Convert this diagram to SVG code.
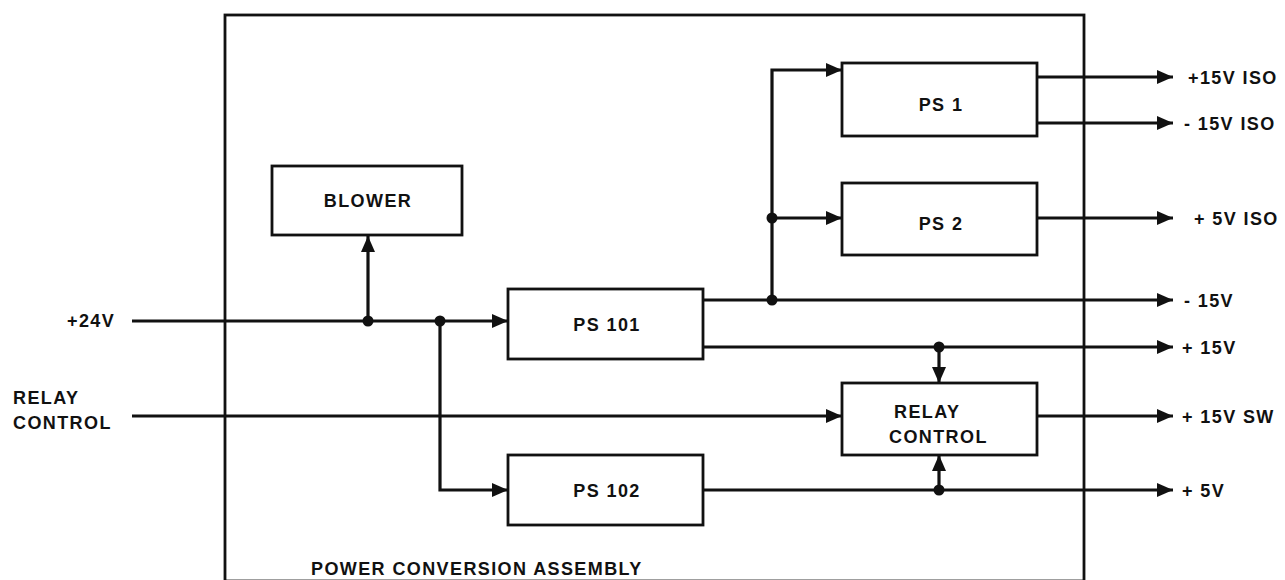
<svg xmlns="http://www.w3.org/2000/svg" width="1285" height="580" viewBox="0 0 1285 580">
<style>
.bx{fill:#fff;stroke:#111;stroke-width:2.8}
.ln{fill:none;stroke:#111;stroke-width:3.2}
.t{font-family:"Liberation Sans",Arial,sans-serif;font-weight:bold;font-size:18px;letter-spacing:1.4px;fill:#111}
.c{text-anchor:middle}
.dot{fill:#111}
</style>
<defs>
<marker id="ah" markerUnits="userSpaceOnUse" markerWidth="18" markerHeight="16" refX="16" refY="8" orient="auto">
<path d="M0,1 L16,8 L0,15 z" fill="#111"/>
</marker>
</defs>
<rect width="1285" height="580" fill="#fff"/>
<g id="assembly">
<rect x="225" y="15" width="859" height="566" fill="none" stroke="#111" stroke-width="2.8"/>
<text class="t" x="311" y="575">POWER CONVERSION ASSEMBLY</text>
</g>
<g id="blower"><rect class="bx" x="272" y="166" width="190" height="69"/><text class="t c" x="368" y="207">BLOWER</text></g>
<g id="ps101"><rect class="bx" x="508" y="289" width="195" height="70"/><text class="t c" x="607" y="331">PS 101</text></g>
<g id="ps102"><rect class="bx" x="508" y="455" width="195" height="70"/><text class="t c" x="607" y="497">PS 102</text></g>
<g id="ps1"><rect class="bx" x="842" y="63" width="195" height="73"/><text class="t c" x="941" y="111">PS 1</text></g>
<g id="ps2"><rect class="bx" x="842" y="183" width="195" height="72"/><text class="t c" x="941" y="230">PS 2</text></g>
<g id="relay"><rect class="bx" x="842" y="383" width="195" height="72"/><text class="t" x="894" y="418">RELAY</text><text class="t" x="889" y="443">CONTROL</text></g>
<g id="labels">
<text class="t" x="67" y="327">+24V</text>
<text class="t" x="13" y="404">RELAY</text>
<text class="t" x="13" y="429">CONTROL</text>
<text class="t" x="1188" y="84">+15V ISO</text>
<text class="t" x="1184" y="130">- 15V ISO</text>
<text class="t" x="1194" y="225">+ 5V ISO</text>
<text class="t" x="1184" y="307">- 15V</text>
<text class="t" x="1182" y="354">+ 15V</text>
<text class="t" x="1182" y="423">+ 15V SW</text>
<text class="t" x="1182" y="497">+ 5V</text>
</g>
<g id="connectors">
<path class="ln" d="M132,321 H508" marker-end="url(#ah)"/>
<path class="ln" d="M368,321 V236" marker-end="url(#ah)"/>
<path class="ln" d="M440,321 V490 H508" marker-end="url(#ah)"/>
<path class="ln" d="M132,416 H842" marker-end="url(#ah)"/>
<path class="ln" d="M703,300 H1173" marker-end="url(#ah)"/>
<path class="ln" d="M772,300 V70 H842" marker-end="url(#ah)"/>
<path class="ln" d="M772,218 H842" marker-end="url(#ah)"/>
<path class="ln" d="M703,347 H1173" marker-end="url(#ah)"/>
<path class="ln" d="M939,347 V383" marker-end="url(#ah)"/>
<path class="ln" d="M703,490 H1173" marker-end="url(#ah)"/>
<path class="ln" d="M939,490 V455" marker-end="url(#ah)"/>
<path class="ln" d="M1037,416 H1173" marker-end="url(#ah)"/>
<path class="ln" d="M1037,77 H1173" marker-end="url(#ah)"/>
<path class="ln" d="M1037,123 H1173" marker-end="url(#ah)"/>
<path class="ln" d="M1037,218 H1173" marker-end="url(#ah)"/>
<circle class="dot" cx="368" cy="321" r="5.5"/>
<circle class="dot" cx="440" cy="321" r="5.5"/>
<circle class="dot" cx="772" cy="300" r="5.5"/>
<circle class="dot" cx="772" cy="218" r="5.5"/>
<circle class="dot" cx="939" cy="347" r="5.5"/>
<circle class="dot" cx="939" cy="490" r="5.5"/>
</g>
</svg>
